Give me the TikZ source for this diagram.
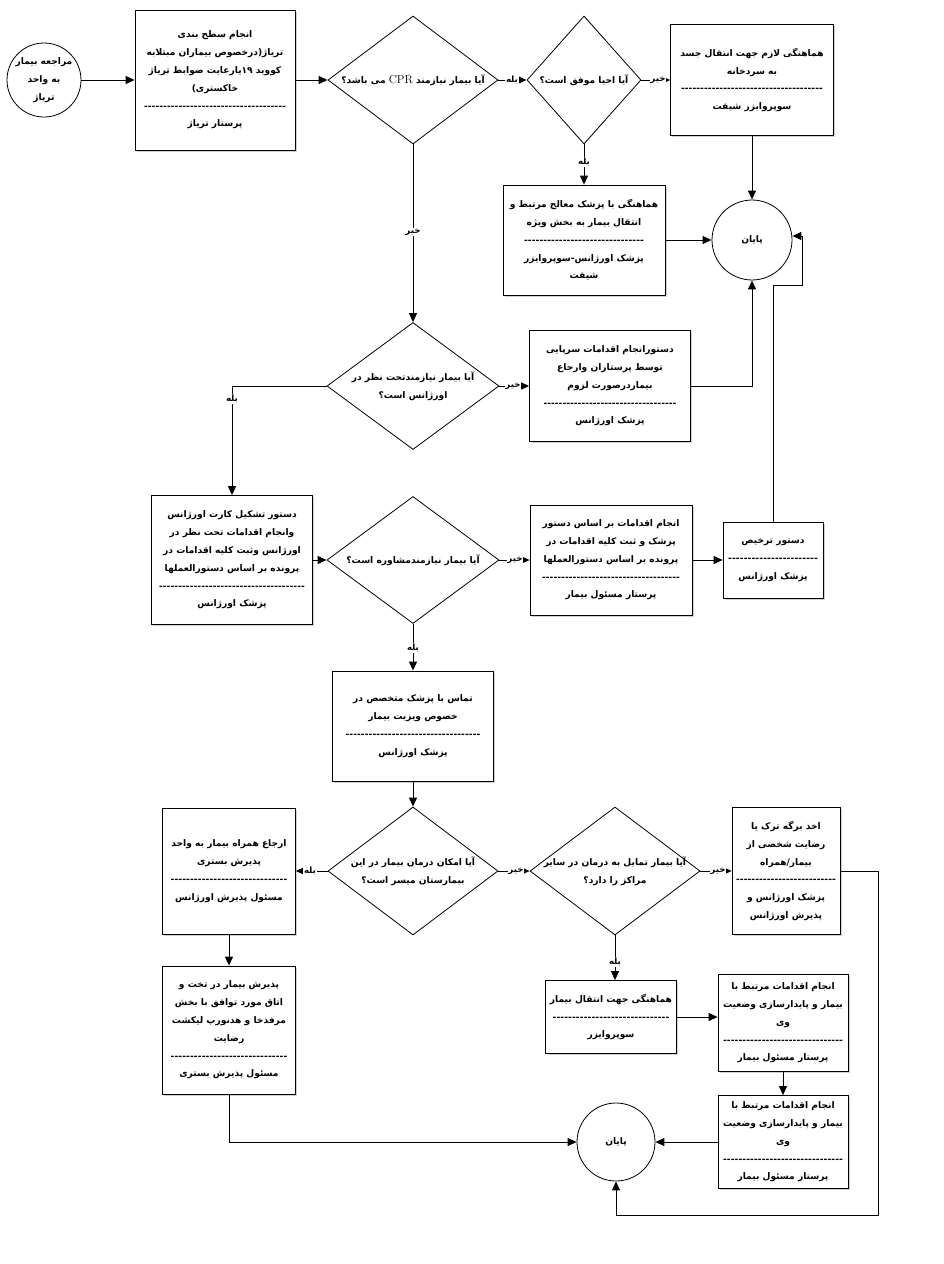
\documentclass[tikz,border=0pt]{standalone}
\usepackage{fontspec}
\usetikzlibrary{shapes.geometric,arrows.meta,shadows}
\TeXXeTstate=1
\newfontfamily\pf[Script=Arabic]{DejaVu Sans}
\newcommand\rtxt[1]{\beginR #1\endR}
\newcommand\dln[1]{\makebox[#1]{\xleaders\hbox{-}\hfill}}
\begin{document}
\begin{tikzpicture}[x=1pt,y=-1pt,
  txt/.style={font=\pf\bfseries\fontsize{9.1}{17.8}\selectfont, align=center, inner sep=0pt},
  box/.style={txt, draw, rectangle, line width=0.8pt, fill=white,
    drop shadow={shadow xshift=1.6pt, shadow yshift=-1.6pt, fill=black, opacity=0.18}},
  dia/.style={draw, diamond, line width=0.8pt, inner sep=0pt},
  circ/.style={draw, circle, line width=0.8pt, inner sep=0pt},
  arr/.style={-{Triangle[length=9pt,width=8pt]}, line width=1pt},
  lbl/.style={font=\pf\bfseries\fontsize{8.6}{10}\selectfont, fill=white, inner sep=0.6pt}]
\useasboundingbox (0,0) rectangle (943,1264);
\fill[white] (0,0) rectangle (943,1264);

% ---------- row 1 ----------
\node[circ, minimum size=74pt] (start) at (44,80) {};
\node[txt] (startt) at (start.center) {\rtxt{مراجعه بیمار}\\ \rtxt{به واحد}\\ \rtxt{تریاژ}};

\node[box, minimum width=160pt, minimum height=140pt] (b1) at (215,80)
 {\rtxt{انجام سطح بندی}\\ \rtxt{تریاژ(درخصوص بیماران مبتلابه}\\ \rtxt{کووید ۱۹یارعایت ضوابط تریاژ}\\ \rtxt{خاکستری)}\\ \dln{142pt}\\ \rtxt{پرستار تریاژ}};

\node[dia, minimum width=170pt, minimum height=128pt] (d1) at (413,80) {};
\node[txt] (d1t) at (d1.center) {\rtxt{آیا بیمار نیازمند  \beginL{\normalfont\fontsize{11.5}{12}\selectfont CPR}\endL{} می باشد؟}};

\node[dia, minimum width=114pt, minimum height=128pt] (d2) at (584,80) {};
\node[txt] (d2t) at (d2.center) {\rtxt{آیا احیا موفق است؟}};

\node[box, minimum width=163pt, minimum height=111pt] (bc) at (752,80)
 {\rtxt{هماهنگی لازم جهت انتقال جسد}\\ \rtxt{به سردخانه}\\ \dln{142pt}\\ \rtxt{سوپروایزر شیفت}};

\node[box, minimum width=162pt, minimum height=110pt] (bicu) at (584,240)
 {\rtxt{هماهنگی با پزشک معالج مرتبط و}\\ \rtxt{انتقال بیمار به بخش ویژه}\\ \dln{120pt}\\ \rtxt{پزشک اورژانس-سوپروایزر}\\ \rtxt{شیفت}};

\node[circ, minimum size=80pt] (end1) at (752,240) {};
\node[txt] (end1t) at (end1.center) {\rtxt{پایان}};

% ---------- row 2 ----------
\node[dia, minimum width=172pt, minimum height=127pt] (d3) at (413,386) {};
\node[txt] (d3t) at (d3.center) {\rtxt{آیا بیمار نیازمندتحت نظر در}\\ \rtxt{اورژانس است؟}};

\node[box, minimum width=161pt, minimum height=111pt] (bout) at (610,386)
 {\rtxt{دستورانجام اقدامات سرپایی}\\ \rtxt{توسط پرستاران وارجاع}\\ \rtxt{بیماردرصورت لزوم}\\ \dln{133pt}\\ \rtxt{پزشک اورژانس}};

% ---------- row 3 ----------
\node[box, minimum width=161pt, minimum height=129pt] (b3) at (232,560)
 {\rtxt{دستور تشکیل کارت اورژانس}\\ \rtxt{وانجام اقدامات تحت نظر در}\\ \rtxt{اورژانس وثبت کلیه اقدامات در}\\ \rtxt{پرونده بر اساس دستورالعملها}\\ \dln{146pt}\\ \rtxt{پزشک اورژانس}};

\node[dia, minimum width=172pt, minimum height=127pt] (d4) at (413,560) {};
\node[txt] (d4t) at (d4.center) {\rtxt{آیا بیمار نیازمندمشاوره است؟}};

\node[box, minimum width=162pt, minimum height=110pt] (b5) at (611,560)
 {\rtxt{انجام اقدامات بر اساس دستور}\\ \rtxt{پزشک و ثبت کلیه اقدامات در}\\ \rtxt{پرونده بر اساس دستورالعملها}\\ \dln{138pt}\\ \rtxt{پرستار مسئول بیمار}};

\node[box, minimum width=100pt, minimum height=76pt] (b6) at (773,560)
 {\rtxt{دستور ترخیص}\\ \dln{90pt}\\ \rtxt{پزشک اورژانس}};

% ---------- row 4 ----------
\node[box, minimum width=161pt, minimum height=110pt] (b7) at (413,726)
 {\rtxt{تماس با پزشک متخصص در}\\ \rtxt{خصوص ویزیت بیمار}\\ \dln{135pt}\\ \rtxt{پزشک اورژانس}};

% ---------- row 5 ----------
\node[box, minimum width=133pt, minimum height=126pt] (b8) at (229,871)
 {\rtxt{ارجاع همراه بیمار به واحد}\\ \rtxt{پذیرش بستری}\\ \dln{117pt}\\ \rtxt{مسئول پذیرش اورژانس}};

\node[dia, minimum width=170pt, minimum height=128pt] (d5) at (413,871) {};
\node[txt] (d5t) at (d5.center) {\rtxt{آیا امکان درمان بیمار در این}\\ \rtxt{بیمارستان میسر است؟}};

\node[dia, minimum width=170pt, minimum height=128pt] (d6) at (615,871) {};
\node[txt] (d6t) at (d6.center) {\rtxt{آیا بیمار تمایل به درمان در سایر}\\ \rtxt{مراکز را دارد؟}};

\node[box, minimum width=108pt, minimum height=127pt] (b10) at (786,871)
 {\rtxt{اخذ برگه ترک یا}\\ \rtxt{رضایت شخصی از}\\ \rtxt{بیمار/همراه}\\ \dln{100pt}\\ \rtxt{پزشک اورژانس و}\\ \rtxt{پذیرش اورژانس}};

% ---------- row 6 ----------
\node[box, minimum width=133pt, minimum height=128pt] (b9) at (229,1030)
 {\rtxt{پذیرش بیمار در تخت و}\\ \rtxt{اتاق مورد توافق با بخش}\\ \rtxt{مرفذخا و هدنورپ لیکشت}\\ \rtxt{رضایت}\\ \dln{117pt}\\ \rtxt{مسئول پذیرش بستری}};

\node[box, minimum width=131pt, minimum height=73pt] (b11) at (611,1017)
 {\rtxt{هماهنگی جهت انتقال بیمار}\\ \dln{117pt}\\ \rtxt{سوپروایزر}};

\node[box, minimum width=130pt, minimum height=97pt] (b12) at (783,1023)
 {\rtxt{انجام اقدامات مرتبط با}\\ \rtxt{بیمار و پایدارسازی وضعیت}\\ \rtxt{وی}\\ \dln{120pt}\\ \rtxt{پرستار مسئول بیمار}};

\node[box, minimum width=130pt, minimum height=93pt] (b13) at (783,1142)
 {\rtxt{انجام اقدامات مرتبط با}\\ \rtxt{بیمار و پایدارسازی وضعیت}\\ \rtxt{وی}\\ \dln{120pt}\\ \rtxt{پرستار مسئول بیمار}};

\node[circ, minimum size=78pt] (end2) at (616,1142) {};
\node[txt] (end2t) at (end2.center) {\rtxt{پایان}};

% ---------- helper coordinates ----------
\coordinate (c2) at (802,285);
\coordinate (c3) at (802,236);
\coordinate (c4) at (878,1215);

% ---------- connectors ----------
\draw[arr] (start) -- (b1);
\draw[arr] (b1) -- (d1);
\draw[arr] (d1) -- (d2);
\draw[arr] (d2) -- (bc);
\draw[arr] (bc) -- (end1);
\draw[arr] (d2) -- (bicu);
\draw[arr] (bicu) -- (end1);
\draw[arr] (d1) -- (d3);
\draw[arr] (d3) -- (bout);
\draw[arr] (bout.east) -| (end1.south);
\draw[arr] (d3.west) -| (b3.north);
\draw[arr] (b3) -- (d4);
\draw[arr] (d4) -- (b5);
\draw[arr] (b5) -- (b6);
\draw[arr] (b6.north) |- (c2) -- (c3) -- (c3 -| end1.east);
\draw[arr] (d4) -- (b7);
\draw[arr] (b7) -- (d5);
\draw[arr] (d5) -- (b8);
\draw[arr] (b8) -- (b9);
\draw[arr] (b9.south) |- (end2.west);
\draw[arr] (d5) -- (d6);
\draw[arr] (d6) -- (b10);
\draw[arr] (b10.east) -| (c4) -| (end2.south);
\draw[arr] (d6.south) -- (d6.south |- b11.north);
\draw[arr] (b11.east) -- (b11.east -| b12.west);
\draw[arr] (b12) -- (b13);
\draw[arr] (b13) -- (end2);

% ---------- branch labels ----------
\node[lbl] (l1) at (512,80) {\rtxt{بله}};
\node[lbl] (l2) at (658,80) {\rtxt{خیر}};
\node[lbl] (l3) at (584,162) {\rtxt{بله}};
\node[lbl] (l4) at (413,232) {\rtxt{خیر}};
\node[lbl] (l5) at (232,399) {\rtxt{بله}};
\node[lbl] (l6) at (513,386) {\rtxt{خیر}};
\node[lbl] (l7) at (515,560) {\rtxt{خیر}};
\node[lbl] (l8) at (413,648) {\rtxt{بله}};
\node[lbl] (l9) at (310,871) {\rtxt{بله}};
\node[lbl] (l10) at (516,871) {\rtxt{خیر}};
\node[lbl] (l11) at (718,871) {\rtxt{خیر}};
\node[lbl] (l12) at (615,962) {\rtxt{بله}};
\end{tikzpicture}
\end{document}
